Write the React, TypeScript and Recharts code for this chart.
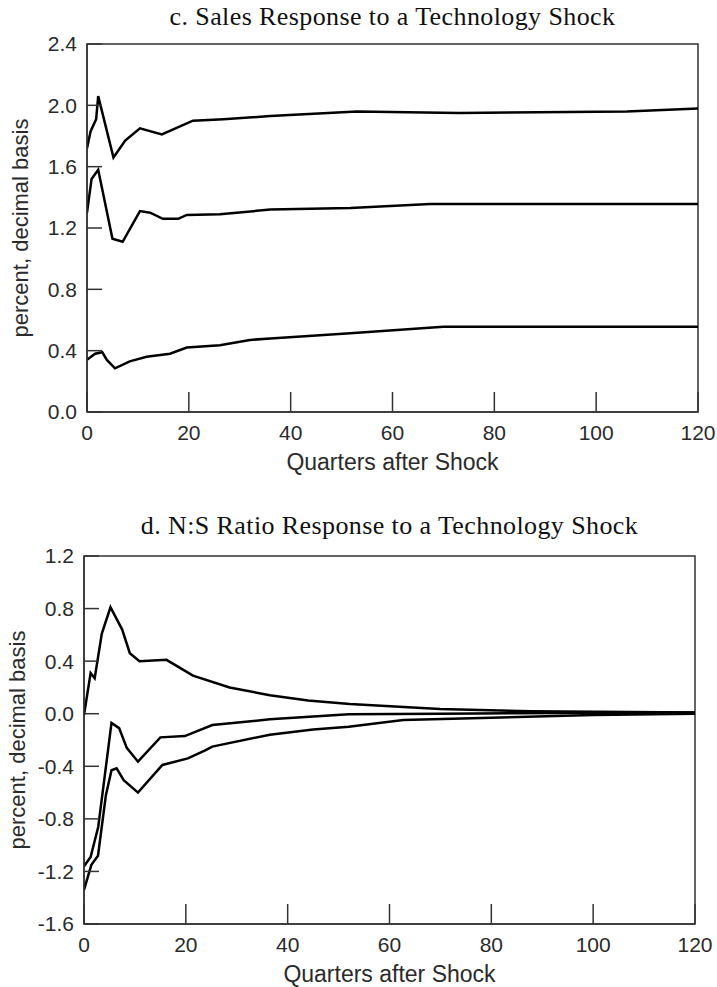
import React from "react";
import {
  LineChart,
  Line,
  XAxis,
  YAxis,
  ReferenceArea,
} from "recharts";

// c. Sales response — quarters and values for each band
const salesUpperQ = [0, 0.7, 1.8, 2.2, 5.2, 7.5, 10.4, 14.7, 20.8, 26.8, 36, 53, 73, 106, 120];
const salesUpperV = [1.72, 1.83, 1.91, 2.06, 1.66, 1.77, 1.85, 1.81, 1.9, 1.91, 1.93, 1.96, 1.95, 1.96, 1.98];

const salesMidQ = [0, 0.9, 2.2, 5.0, 7.0, 10.4, 12.4, 14.9, 17.9, 19.6, 26.1, 36, 51.7, 67.4, 120];
const salesMidV = [1.3, 1.52, 1.58, 1.13, 1.11, 1.31, 1.3, 1.26, 1.26, 1.285, 1.29, 1.32, 1.33, 1.357, 1.357];

const salesLowerQ = [0, 1.6, 3, 3.9, 5.5, 8.4, 11.7, 16.3, 19.6, 26.1, 32, 36, 51.7, 70, 120];
const salesLowerV = [0.34, 0.38, 0.39, 0.34, 0.285, 0.33, 0.36, 0.38, 0.42, 0.435, 0.47, 0.48, 0.513, 0.556, 0.556];

// d. N:S ratio response
const nsUpperQ = [0, 1.3, 2.1, 3.5, 5.2, 7.5, 9, 10.9, 16.2, 21.4, 28.6, 36.5, 44, 52.2, 69.9, 88, 120];
const nsUpperV = [-0.01, 0.31, 0.27, 0.61, 0.81, 0.64, 0.46, 0.4, 0.41, 0.29, 0.2, 0.14, 0.1, 0.074, 0.036, 0.018, 0.01];

const nsMidQ = [0, 1.3, 2.8, 5.4, 6.9, 8.4, 10.6, 15, 19.8, 25.2, 36.5, 52, 70, 120];
const nsMidV = [-1.16, -1.09, -0.86, -0.07, -0.11, -0.26, -0.365, -0.18, -0.17, -0.086, -0.043, -0.005, 0.0, 0.01];

const nsLowerQ = [0, 1.45, 2.75, 4.3, 5.4, 6.4, 7.8, 10.6, 15.4, 20.4, 23.7, 25.2, 36.5, 45, 52, 62.7, 80, 100, 120];
const nsLowerV = [-1.34, -1.15, -1.08, -0.62, -0.43, -0.415, -0.505, -0.6, -0.39, -0.34, -0.28, -0.25, -0.16, -0.12, -0.1, -0.048, -0.03, -0.01, 0.0];

const xTicks = [0, 20, 40, 60, 80, 100, 120];
const salesTicks = [0, 0.4, 0.8, 1.2, 1.6, 2.0, 2.4];
const nsTicks = [-1.6, -1.2, -0.8, -0.4, 0, 0.4, 0.8, 1.2];

const zip = (qs: number[], vs: number[]) => qs.map((q, i) => ({ q, v: vs[i] }));

const SANS = "'Liberation Sans', Arial, sans-serif";
const SERIF = "'Liberation Serif', 'Times New Roman', serif";
const AXIS = "#333";
const TEXT = "#2a2a2a";

interface PanelProps {
  title: string;
  top: number;
  titleTop: number;
  height: number;
  margin: { top: number; right: number; left: number; bottom: number };
  yDomain: [number, number];
  yTicks: number[];
  series: { q: number; v: number }[][];
}

function Panel({ title, top, titleTop, height, margin, yDomain, yTicks, series }: PanelProps) {
  const plotLeft = margin.left + 60;
  const plotH = height - margin.top - margin.bottom - 30;
  const midY = margin.top + plotH / 2;
  const plotMidX = (plotLeft + 717 - margin.right) / 2;
  return (
    <div style={{ position: "absolute", left: 0, top, width: 717, height }}>
      <div
        style={{
          position: "absolute",
          left: plotMidX - 320,
          width: 640,
          top: titleTop,
          textAlign: "center",
          fontFamily: SERIF,
          fontSize: 26,
          lineHeight: "26px",
          letterSpacing: 0.4,
          color: "#111",
          whiteSpace: "nowrap",
        }}
      >
        {title}
      </div>
      <LineChart width={717} height={height} margin={margin}>
        <XAxis
          type="number"
          dataKey="q"
          domain={[0, 120]}
          ticks={xTicks}
          allowDataOverflow
          height={30}
          stroke={AXIS}
          strokeWidth={1.5}
          tickSize={-20}
          tickMargin={33}
          tick={{ fontSize: 21, fill: TEXT, fontFamily: SANS }}
          label={{
            value: "Quarters after Shock",
            position: "bottom",
            offset: 12,
            style: { fontSize: 23, fill: TEXT, fontFamily: SANS },
          }}
        />
        <YAxis
          type="number"
          domain={yDomain}
          ticks={yTicks}
          allowDataOverflow
          width={60}
          stroke={AXIS}
          strokeWidth={1.5}
          tickSize={-15}
          tickMargin={25}
          tickFormatter={(v: number) => v.toFixed(1)}
          tick={{ fontSize: 21, fill: TEXT, fontFamily: SANS }}
          label={{
            value: "percent, decimal basis",
            content: () => (
              <text
                x={0}
                y={0}
                transform={`translate(${plotLeft - 59}, ${midY}) rotate(-90)`}
                textAnchor="middle"
                fontSize={22}
                fill={TEXT}
                fontFamily={SANS}
              >
                percent, decimal basis
              </text>
            ),
          }}
        />
        <ReferenceArea
          x1={0}
          x2={120}
          y1={yDomain[0]}
          y2={yDomain[1]}
          fill="none"
          stroke={AXIS}
          strokeWidth={1.5}
          ifOverflow="visible"
        />
        {series.map((d, i) => (
          <Line
            key={i}
            data={d}
            dataKey="v"
            type="linear"
            stroke="#000"
            strokeWidth={2.5}
            dot={false}
            isAnimationActive={false}
          />
        ))}
      </LineChart>
    </div>
  );
}

export default function App() {
  return (
    <div
      style={{
        position: "absolute",
        left: 0,
        top: 0,
        width: 717,
        height: 987,
        background: "#fff",
      }}
    >
      <Panel
        title="c. Sales Response to a Technology Shock"
        top={0}
        titleTop={4}
        height={490}
        margin={{ top: 44, right: 19, left: 27, bottom: 48 }}
        yDomain={[0, 2.4]}
        yTicks={salesTicks}
        series={[
          zip(salesUpperQ, salesUpperV),
          zip(salesMidQ, salesMidV),
          zip(salesLowerQ, salesLowerV),
        ]}
      />
      <Panel
        title="d. N:S Ratio Response to a Technology Shock"
        top={490}
        titleTop={23}
        height={497}
        margin={{ top: 66, right: 22, left: 24, bottom: 33 }}
        yDomain={[-1.6, 1.2]}
        yTicks={nsTicks}
        series={[
          zip(nsUpperQ, nsUpperV),
          zip(nsMidQ, nsMidV),
          zip(nsLowerQ, nsLowerV),
        ]}
      />
    </div>
  );
}
